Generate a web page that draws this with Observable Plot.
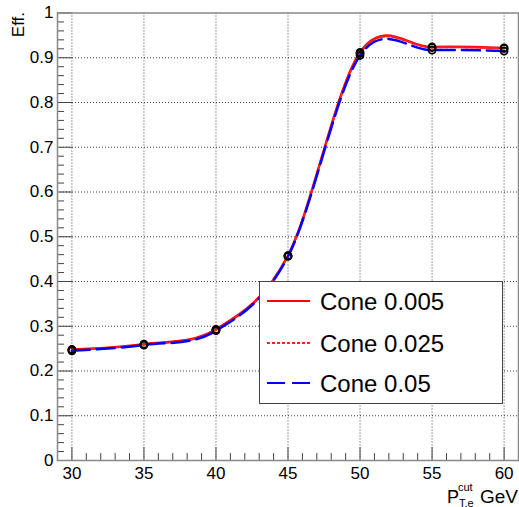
<!DOCTYPE html>
<html><head><meta charset="utf-8">
<script src="https://cdn.jsdelivr.net/npm/d3@7"></script>
<script src="https://cdn.jsdelivr.net/npm/@observablehq/plot@0.6"></script>
<style>body{margin:0;background:#fff} svg{display:block}</style>
</head><body><div id="chart"></div>
<script>
const ptCut = [30, 35, 40, 45, 50, 55, 60];
const cone005 = [0.248, 0.260, 0.293, 0.458, 0.912, 0.924, 0.922];
const cone025 = [0.247, 0.259, 0.292, 0.457, 0.910, 0.923, 0.921];
const cone05  = [0.245, 0.258, 0.290, 0.456, 0.905, 0.917, 0.915];
const seriesNames = ["Cone 0.005", "Cone 0.025", "Cone 0.05"];
const xMajorTicks = [30, 35, 40, 45, 50, 55, 60];
const yMajorTicks = [0, 0.1, 0.2, 0.3, 0.4, 0.5, 0.6, 0.7, 0.8, 0.9, 1];

const xMinorTicks = d3.range(29, 62, 1).filter(d => !xMajorTicks.includes(d));
const yMinorTicks = d3.range(0, 50).map(i => i * 0.02).filter(d => Math.abs(d * 10 - Math.round(d * 10)) > 1e-6);

const toRows = (vals, name) => ptCut.map((x, i) => ({x, y: vals[i], series: name}));
const rows005 = toRows(cone005, seriesNames[0]);
const rows025 = toRows(cone025, seriesNames[1]);
const rows05 = toRows(cone05, seriesNames[2]);

const W = 519, H = 507, mL = 57, mR = 1, mT = 12.5, mB = 47;
const frameH = H - mT - mB, frameW = W - mL - mR;
const font = "Liberation Sans, Arial, Helvetica, sans-serif";

const svg = Plot.plot({
  width: W, height: H,
  marginLeft: mL, marginRight: mR, marginTop: mT, marginBottom: mB,
  style: {fontFamily: font, background: "#fff", overflow: "visible"},
  x: {domain: [29, 61]},
  y: {domain: [0, 1]},
  marks: [
    Plot.ruleX(xMajorTicks, {stroke: "#000", strokeDasharray: "1,2", strokeOpacity: 0.75}),
    Plot.ruleY(yMajorTicks.filter(d => d > 0 && d < 1), {stroke: "#000", strokeDasharray: "1,2", strokeOpacity: 0.75}),
    Plot.ruleX(xMajorTicks, {insetTop: frameH - 13, stroke: "#444"}),
    Plot.ruleX(xMinorTicks, {insetTop: frameH - 7, stroke: "#444"}),
    Plot.ruleY(yMajorTicks, {insetRight: frameW - 15, stroke: "#444"}),
    Plot.ruleY(yMinorTicks, {insetRight: frameW - 7, stroke: "#444"}),
    Plot.line(rows005, {x: "x", y: "y", curve: "cardinal", stroke: "#ff0000", strokeWidth: 2.5}),
    Plot.line(rows025, {x: "x", y: "y", curve: "cardinal", stroke: "#ff2020", strokeWidth: 2, strokeDasharray: "3,2"}),
    Plot.line(rows05, {x: "x", y: "y", curve: "cardinal", stroke: "#0000ff", strokeWidth: 2.5, strokeDasharray: "18,7"}),
    Plot.dot([...rows005, ...rows025, ...rows05], {x: "x", y: "y", r: 3.5, stroke: "#000", strokeWidth: 1.8, fill: "none"}),
    Plot.frame({stroke: "#888", strokeWidth: 1.5}),
    Plot.axisX({ticks: xMajorTicks, tickSize: 0, tickPadding: 6, fontSize: 17, label: null}),
    Plot.axisY({ticks: yMajorTicks, tickSize: 0, tickPadding: 4, fontSize: 17, label: null,
      tickFormat: d => (d === 0 || d === 1) ? String(d) : d.toFixed(1)})
  ]
});

const s = d3.select(svg);
// Y axis title
s.append("text").attr("transform", "translate(24,12) rotate(-90)")
  .attr("text-anchor", "end").attr("font-size", 17).attr("font-family", font).attr("fill", "#000").text("Eff.");
// X axis title
const xt = s.append("g").attr("font-family", font).attr("fill", "#000").attr("text-anchor", "start");
xt.append("text").attr("x", 447).attr("y", 503).attr("font-size", 18).text("P");
xt.append("text").attr("x", 458).attr("y", 491).attr("font-size", 11).text("cut");
xt.append("text").attr("x", 459).attr("y", 506.5).attr("font-size", 11).text("T,e");
xt.append("text").attr("x", 518).attr("y", 503).attr("text-anchor", "end").attr("font-size", 19).text("GeV");

// Legend
const lg = s.append("g").attr("font-family", font).attr("text-anchor", "start");
lg.append("rect").attr("x", 259.5).attr("y", 281.5).attr("width", 243).attr("height", 122)
  .attr("fill", "#fff").attr("stroke", "#444").attr("stroke-width", 1);
const legendStyles = [
  {stroke: "#ff0000", dash: null, w: 2},
  {stroke: "#ff2020", dash: "3,2", w: 2},
  {stroke: "#0000ff", dash: "18,7", w: 2}
];
const rowY = [301, 343, 383];
seriesNames.forEach((name, i) => {
  const st = legendStyles[i];
  lg.append("line").attr("x1", 267).attr("x2", 310).attr("y1", rowY[i]).attr("y2", rowY[i])
    .attr("stroke", st.stroke).attr("stroke-width", st.w).attr("stroke-dasharray", st.dash);
  lg.append("text").attr("x", 320).attr("y", rowY[i] + 8.5).attr("font-size", 24).attr("fill", "#000").text(name);
});

document.getElementById("chart").appendChild(svg);
</script>
</body></html>
